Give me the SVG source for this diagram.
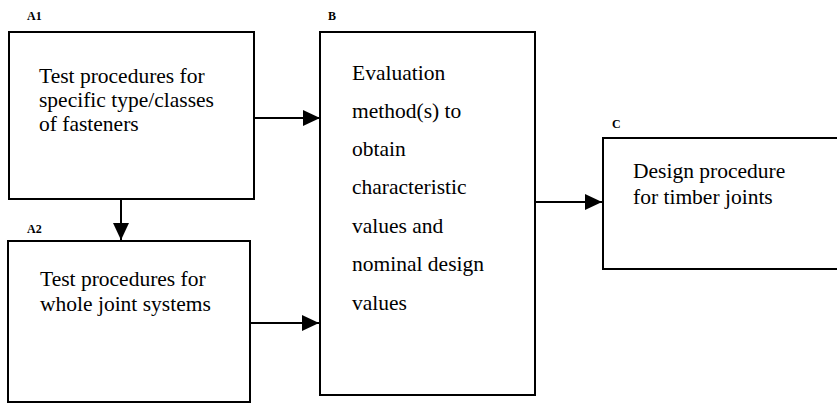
<svg xmlns="http://www.w3.org/2000/svg" width="837" height="405" viewBox="0 0 837 405">
  <style>
    .box { fill: #ffffff; stroke: #000000; stroke-width: 2; }
    .txt { font-family: "Liberation Serif", "Times New Roman", serif; font-size: 21.5px; fill: #000000; }
    .lbl { font-family: "Liberation Serif", "Times New Roman", serif; font-size: 12px; font-weight: bold; fill: #000000; }
    .conn { stroke: #000000; stroke-width: 2; fill: none; marker-end: url(#arrow); }
  </style>
  <defs>
    <marker id="arrow" markerUnits="userSpaceOnUse" markerWidth="18" markerHeight="16" refX="17" refY="8" orient="auto">
      <polygon points="0,0 17,8 0,16" fill="#000000"/>
    </marker>
  </defs>
  <rect width="837" height="405" fill="#ffffff"/>

  <g id="connectors">
    <line class="conn" x1="254" y1="118" x2="320" y2="118"/>
    <line class="conn" x1="121" y1="199" x2="121" y2="240"/>
    <line class="conn" x1="250" y1="323" x2="319" y2="323"/>
    <line class="conn" x1="535" y1="202" x2="602" y2="202"/>
  </g>

  <g id="A1">
    <text class="lbl" x="27" y="20">A1</text>
    <rect class="box" x="9" y="32" width="245" height="167"/>
    <text class="txt" x="39" y="83">Test procedures for</text>
    <text class="txt" x="39" y="107">specific type/classes</text>
    <text class="txt" x="39" y="131">of fasteners</text>
  </g>

  <g id="A2">
    <text class="lbl" x="27" y="233">A2</text>
    <rect class="box" x="8" y="241" width="242" height="161"/>
    <text class="txt" x="40" y="286">Test procedures for</text>
    <text class="txt" x="40" y="311">whole joint systems</text>
  </g>

  <g id="B">
    <text class="lbl" x="328" y="20">B</text>
    <rect class="box" x="320" y="32" width="215" height="363"/>
    <text class="txt" x="352" y="80">Evaluation</text>
    <text class="txt" x="352" y="118">method(s) to</text>
    <text class="txt" x="352" y="156">obtain</text>
    <text class="txt" x="352" y="194">characteristic</text>
    <text class="txt" x="352" y="233">values and</text>
    <text class="txt" x="352" y="271">nominal design</text>
    <text class="txt" x="352" y="310">values</text>
  </g>

  <g id="C">
    <text class="lbl" x="612" y="128">C</text>
    <rect class="box" x="603" y="138" width="250" height="131"/>
    <text class="txt" x="633" y="178">Design procedure</text>
    <text class="txt" x="633" y="204">for timber joints</text>
  </g>
</svg>
